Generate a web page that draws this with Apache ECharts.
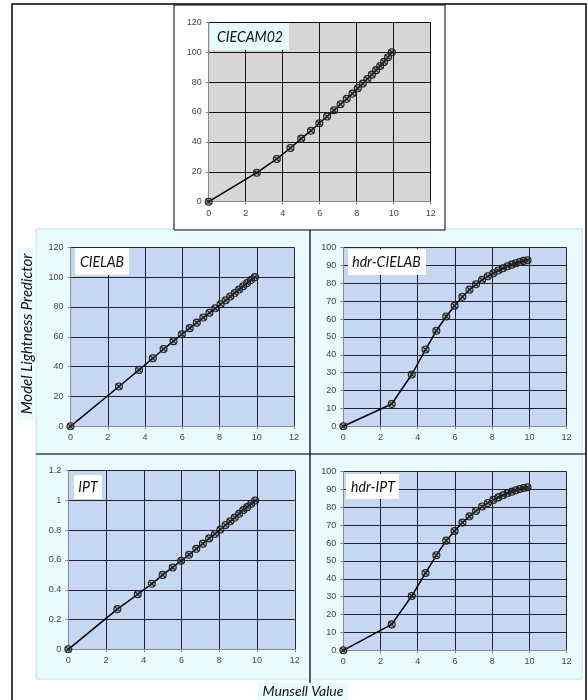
<!DOCTYPE html>
<html>
<head>
<meta charset="utf-8">
<script src="https://cdn.jsdelivr.net/npm/echarts@6/dist/echarts.min.js"></script>
<style>
  html, body { margin: 0; padding: 0; background: #ffffff; }
  #chart { width: 588px; height: 700px; }
</style>
</head>
<body>
<div id="chart"></div>
<script>
// Munsell value of each sample (shared x values)
const munsell = [0, 2.6, 3.68, 4.42, 5.0, 5.53, 5.98, 6.4, 6.78, 7.13, 7.46, 7.77, 8.06, 8.33, 8.58, 8.82, 9.05, 9.27, 9.48, 9.69, 9.9];

// Lightness predicted by each model
const ciecam02  = [0, 19.4, 28.6, 35.9, 42.2, 47.5, 52.5, 57.0, 61.2, 65.2, 68.8, 72.3, 75.9, 79.0, 82.1, 85.0, 88.0, 90.8, 93.5, 96.6, 100];
const cielab    = [0, 26.7, 37.8, 45.6, 51.8, 57.1, 61.7, 65.8, 69.5, 72.9, 76.1, 79.1, 81.8, 84.5, 87.0, 89.4, 91.7, 93.9, 96.0, 98.0, 100];
const hdrCielab = [0, 12.5, 29.0, 43.0, 53.5, 61.5, 67.5, 72.5, 76.5, 79.5, 82.0, 84.0, 85.7, 87.2, 88.5, 89.6, 90.5, 91.3, 92.0, 92.6, 93.0];
const ipt       = [0, 0.27, 0.37, 0.44, 0.50, 0.55, 0.595, 0.635, 0.675, 0.71, 0.745, 0.775, 0.805, 0.835, 0.86, 0.885, 0.91, 0.935, 0.955, 0.978, 1.0];
const hdrIpt    = [0, 14.5, 30.4, 43.3, 53.2, 61.4, 66.8, 71.5, 75.0, 78.0, 80.5, 82.5, 84.2, 85.6, 86.8, 87.9, 88.8, 89.6, 90.3, 90.9, 91.3];

// Panel names and axis ranges
const panelNames = ['CIECAM02', 'CIELAB', 'hdr-CIELAB', 'IPT', 'hdr-IPT'];
const panelSeries = [ciecam02, cielab, hdrCielab, ipt, hdrIpt];
const yMax = [120, 120, 100, 1.2, 100];
const yStep = [20, 20, 10, 0.2, 10];
const xMax = 12, xStep = 2;

const xTitle = 'Munsell Value';
const yTitle = 'Model Lightness Predictor';

// Layout of each plot area
const grids = [
  { left: 208.7, top: 22.3,  width: 222.0, height: 179.4, bg: '#d6d6d6', grid: '#111111' },
  { left: 70.5,  top: 247.3, width: 223.5, height: 179.0, bg: '#c6d7f2', grid: '#22232e' },
  { left: 343.3, top: 247.7, width: 223.3, height: 178.6, bg: '#c6d7f2', grid: '#22232e' },
  { left: 68.3,  top: 470.7, width: 226.5, height: 178.6, bg: '#c6d7f2', grid: '#22232e' },
  { left: 343.3, top: 471.7, width: 223.3, height: 178.6, bg: '#c6d7f2', grid: '#22232e' }
];

// Title boxes: [box x, y, w, h, fill, text centre x, y]
const titleBoxes = [
  [210, 23, 79, 27, '#e6fbfd', 250, 37],
  [75, 248, 54, 27, '#ffffff', 102, 262],
  [348, 249, 78, 26, '#ffffff', 386.5, 262],
  [74, 475, 28, 24, '#ffffff', 88, 487],
  [346, 474, 53, 25, '#ffffff', 373, 487]
];

const markerPath = 'path://M0,5A5,5 0 1 1 10,5A5,5 0 1 1 0,5ZM1.5,1.5L8.5,8.5M8.5,1.5L1.5,8.5';
const labelStyle = { fontFamily: '"Liberation Sans", Arial, sans-serif', fontSize: 9, color: '#444' };
const titleFont = 'italic 16px Lato, "Open Sans", sans-serif';

const chart = echarts.init(document.getElementById('chart'), null, { renderer: 'canvas' });

const gridOpts = [], xAxes = [], yAxes = [], series = [];
grids.forEach((g, i) => {
  gridOpts.push({ left: g.left, top: g.top, width: g.width, height: g.height,
    show: true, backgroundColor: g.bg, borderWidth: 0, containLabel: false });
  xAxes.push({
    type: 'value', gridIndex: i, min: 0, max: xMax, interval: xStep,
    axisLine: { show: true, lineStyle: { color: '#8a8a8a', width: 1 } },
    axisTick: { show: true, length: 3, lineStyle: { color: '#8a8a8a' } },
    axisLabel: Object.assign({ margin: 7 }, labelStyle),
    splitLine: { show: true, lineStyle: { color: g.grid, width: 1 } }
  });
  yAxes.push({
    type: 'value', gridIndex: i, min: 0, max: yMax[i], interval: yStep[i],
    axisLine: { show: true, lineStyle: { color: '#8a8a8a', width: 1 } },
    axisTick: { show: true, length: 3, lineStyle: { color: '#8a8a8a' } },
    axisLabel: Object.assign({ margin: 7 }, labelStyle),
    splitLine: { show: true, lineStyle: { color: g.grid, width: 1 } }
  });
  series.push({
    type: 'line', name: panelNames[i], xAxisIndex: i, yAxisIndex: i,
    data: munsell.map((x, k) => [x, panelSeries[i][k]]),
    symbol: markerPath, symbolSize: 7, showSymbol: true,
    lineStyle: { color: '#000000', width: 1.5 },
    itemStyle: { color: 'rgba(60,60,60,0.25)', borderColor: '#222222', borderWidth: 1.1 },
    z: 5
  });
});

const graphics = [];
// Panel backgrounds
[[36, 229, 274, 225], [310, 229, 272, 225], [36, 454, 274, 225], [310, 454, 272, 225]].forEach(r => {
  graphics.push({ type: 'rect', z: -10, shape: { x: r[0], y: r[1], width: r[2], height: r[3] },
    style: { fill: '#eafbfd', stroke: '#c4dcea', lineWidth: 1 } });
});
// Top chart box
graphics.push({ type: 'rect', z: -10, shape: { x: 174, y: 5, width: 271, height: 225 },
  style: { fill: '#ffffff', stroke: '#000000', lineWidth: 1 } });
// Dividers between the lower panels
graphics.push({ type: 'line', z: 50, shape: { x1: 310, y1: 230, x2: 310, y2: 702 },
  style: { stroke: '#000000', lineWidth: 1.2 } });
graphics.push({ type: 'line', z: 50, shape: { x1: 36, y1: 454, x2: 586, y2: 454 },
  style: { stroke: '#000000', lineWidth: 1.2 } });
// Outer frame
graphics.push({ type: 'rect', z: 50, shape: { x: 12, y: 4, width: 574, height: 700 },
  style: { fill: 'none', stroke: '#000000', lineWidth: 1.5 } });
// Title boxes
titleBoxes.forEach((b, i) => {
  graphics.push({ type: 'rect', z: 60, shape: { x: b[0], y: b[1], width: b[2], height: b[3] },
    style: { fill: b[4] } });
  graphics.push({ type: 'text', z: 61, x: b[5], y: b[6], scaleX: 0.88,
    style: { text: panelNames[i], font: titleFont, fill: '#111', align: 'center', verticalAlign: 'middle' } });
});
// Axis titles
graphics.push({ type: 'rect', z: 60, shape: { x: 18, y: 248, width: 18, height: 172 }, style: { fill: '#eafbfd' } });
graphics.push({ type: 'text', z: 61, x: 27, y: 334, rotation: Math.PI / 2,
  style: { text: yTitle, font: 'italic 15px Lato, "Open Sans", sans-serif', fill: '#111', align: 'center', verticalAlign: 'middle' } });
graphics.push({ type: 'rect', z: 60, shape: { x: 258, y: 683, width: 90, height: 18 }, style: { fill: '#eafbfd' } });
graphics.push({ type: 'text', z: 61, x: 303, y: 691,
  style: { text: xTitle, font: 'italic 14px Lato, "Open Sans", sans-serif', fill: '#111', align: 'center', verticalAlign: 'middle' } });

chart.setOption({
  animation: false,
  backgroundColor: '#ffffff',
  grid: gridOpts,
  xAxis: xAxes,
  yAxis: yAxes,
  series: series,
  graphic: { elements: graphics }
});
</script>
</body>
</html>
